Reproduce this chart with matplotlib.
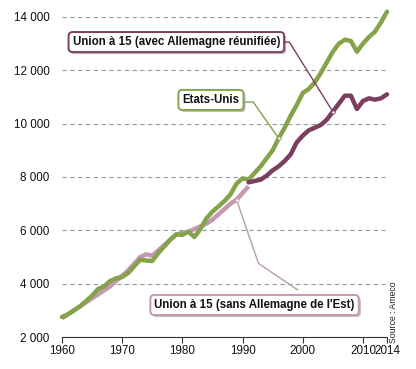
import matplotlib
matplotlib.use("Agg")
import matplotlib.pyplot as plt
import matplotlib.patheffects as pe

plt.rcParams['font.family'] = ['Liberation Sans Narrow', 'Liberation Sans', 'DejaVu Sans']

# PIB par habitant
years_us = list(range(1960, 2015))
us = [2750, 2850, 3000, 3150, 3350, 3550, 3800, 3900, 4100, 4200,
      4250, 4400, 4650, 4900, 4870, 4850, 5150, 5400, 5650, 5850,
      5830, 5950, 5750, 6050, 6450, 6700, 6900, 7100, 7350, 7750,
      7950, 7900, 8150, 8400, 8700, 9000, 9450, 9850, 10300, 10700,
      11150, 11300, 11550, 11900, 12300, 12700, 13000, 13150, 13100, 12700,
      13000, 13250, 13450, 13800, 14200]

years_ue_ouest = list(range(1960, 1992))
ue_ouest = [2700, 2850, 3000, 3150, 3300, 3450, 3600, 3750, 3900, 4100,
            4300, 4500, 4750, 5000, 5100, 5050, 5250, 5450, 5650, 5850,
            5900, 5950, 6050, 6150, 6250, 6400, 6600, 6800, 7000, 7150,
            7400, 7650]

years_ue = list(range(1991, 2015))
ue = [7800, 7850, 7900, 8050, 8250, 8400, 8600, 8850, 9300, 9550,
      9750, 9850, 9950, 10150, 10450, 10750, 11050, 11050, 10550, 10850,
      10950, 10900, 10950, 11100]

xticks = [1960, 1970, 1980, 1990, 2000, 2010, 2014]
yticks = [2000, 4000, 6000, 8000, 10000, 12000, 14000]

green = '#86a24a'
purple = '#7a3e5e'
pink = '#c49ab2'
leader_pink = '#b8a0a0'

fig = plt.figure(figsize=(4.16, 3.69), dpi=100)
ax = fig.add_axes([62 / 416, 1 - 337 / 369, 325 / 416, 320 / 369])

ax.plot(years_ue_ouest, ue_ouest, color=pink, lw=3.2, solid_capstyle='butt', clip_on=False, zorder=3)
ax.plot(years_us, us, color=green, lw=3.2, solid_capstyle='round', clip_on=False, zorder=4)
ax.plot(years_ue, ue, color=purple, lw=3.2, solid_capstyle='round', clip_on=False, zorder=5)

ax.set_xlim(1960, 2014)
ax.set_ylim(2000, 14000)
ax.set_xticks(xticks)
ax.set_yticks(yticks)
ax.set_yticklabels([f"{v:,}".replace(",", " ") for v in yticks])
for s in ['left', 'right', 'top']:
    ax.spines[s].set_visible(False)
ax.spines['bottom'].set_color('#333333')
ax.tick_params(axis='y', length=0, pad=9, labelsize=8.4, labelcolor='#111111')
ax.tick_params(axis='x', length=4, color='#333333', labelsize=8.4, pad=1.5, labelcolor='#111111')
for y in yticks[1:]:
    ax.axhline(y, color='#999999', lw=0.8, ls=(0, (4, 3)), xmax=0.995, zorder=1)


def label(txt, center, start, point, color, line_color, conn):
    t = ax.text(*center, txt, fontsize=8.3, fontweight='bold', ha='center', va='center',
                color='#111111', zorder=10,
                bbox=dict(boxstyle='round,pad=0.35,rounding_size=0.35', fc='white',
                          ec=color, lw=1.4))
    t.get_bbox_patch().set_path_effects([pe.withSimplePatchShadow(offset=(1.5, -1.5), alpha=0.35)])
    ax.annotate("", xy=point, xytext=start,
                arrowprops=dict(arrowstyle='-', color=line_color, lw=1.0,
                                connectionstyle=conn, shrinkA=0, shrinkB=0), zorder=9)
    ax.plot(*point, 'o', ms=2.5, mfc='white', mec=line_color, mew=0.6, zorder=11)


label("Union à 15 (avec Allemagne réunifiée)", (1979.0, 13060), (1997.0, 13060),
      (2005, ue[years_ue.index(2005)]), purple, purple,
      "angle,angleA=0,angleB=122,rad=0")
label("Etats-Unis", (1984.75, 10890), (1990.4, 10810),
      (1996, us[years_us.index(1996)]), green, green,
      "angle,angleA=0,angleB=125,rad=0")
label("Union à 15 (sans Allemagne de l'Est)", (1992.0, 3200), (1999.2, 3760),
      (1989, ue_ouest[years_ue_ouest.index(1989)]), pink, leader_pink,
      "angle,angleA=146,angleB=-71,rad=0")

fig.text(394 / 416, 1 - 312 / 369, "Source : Ameco", rotation=90, fontsize=6.3,
         ha='center', va='center', color='#222222')

fig.savefig("out.png", dpi=100)
